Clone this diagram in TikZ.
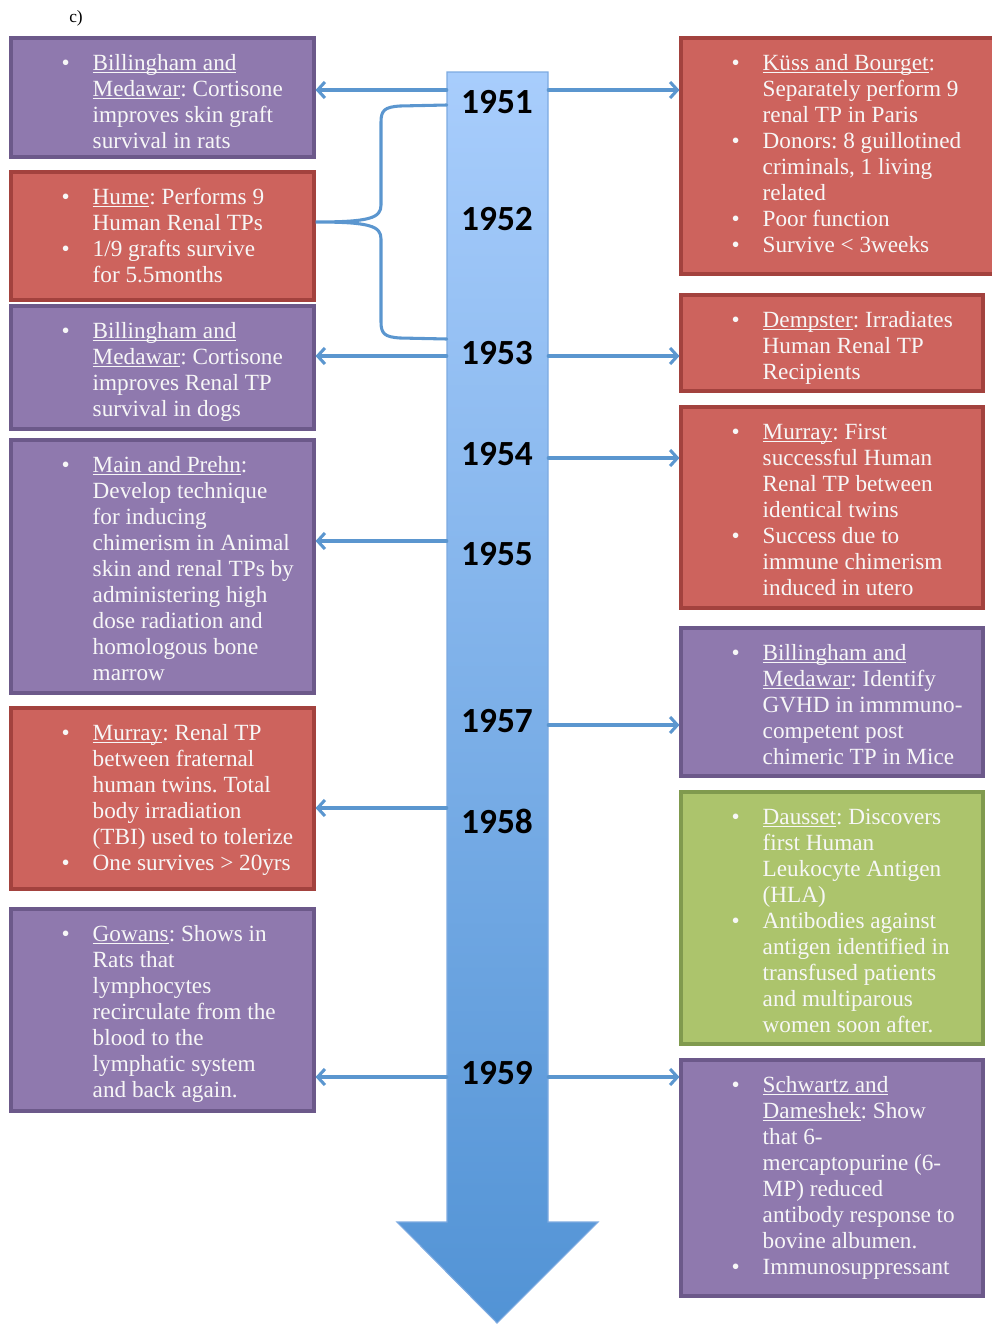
\documentclass[tikz,border=0pt]{standalone}
\usepackage{fontspec}
\setmainfont{Liberation Serif}
\newfontfamily\yearfont{Carlito}
\usetikzlibrary{arrows.meta,fit}
\definecolor{purp}{RGB}{143,121,174}
\definecolor{purpd}{RGB}{108,89,138}
\definecolor{redf}{RGB}{205,99,93}
\definecolor{redd}{RGB}{163,66,62}
\definecolor{grnf}{RGB}{172,196,108}
\definecolor{grnd}{RGB}{128,154,78}
\definecolor{connc}{RGB}{91,150,207}
\definecolor{bartop}{RGB}{168,205,252}
\definecolor{barbot}{RGB}{82,147,213}
\definecolor{barline}{RGB}{125,170,225}
\frenchspacing
\newcommand\ul[1]{\setbox0\hbox{#1}\makebox[0pt][l]{\rule[-1.8pt]{\wd0}{0.7pt}}\box0}
\newcommand\bl{\textbullet}
\newenvironment{items}{\begin{tabular}{@{}p{23.25pt}@{}l@{}}}{\end{tabular}}
\begin{document}
\begin{tikzpicture}[x=0.75pt,y=-0.75pt,
  evbox/.style={inner sep=0pt, line width=2.3pt},
  purplebox/.style={evbox, fill=purp, draw=purpd},
  redbox/.style={evbox, fill=redf, draw=redd},
  greenbox/.style={evbox, fill=grnf, draw=grnd},
  txt/.style={text=white!97!black, font=\fontsize{17.4}{19.5}\selectfont, inner sep=0pt, anchor=north west},
  year/.style={font=\yearfont\bfseries\fontsize{26.5}{28}\selectfont, anchor=base, inner sep=0pt},
  conn/.style={draw=connc, line width=2.3pt, line cap=round, -{Straight Barb[length=5.5pt,width=12pt,line width=2.3pt]}},
  brace/.style={draw=connc, line width=2.3pt, line cap=round}]
\useasboundingbox (0,0) rectangle (992,1324);

% label
\node[anchor=base west, inner sep=0pt, font=\fontsize{13}{14}\selectfont] (lab) at (69,22) {c)};

% central bar with arrow head
\shade[top color=bartop, bottom color=barbot, draw=barline, line width=0.8pt]
  (447,72) -- (548,72) -- (548,1222) -- (598,1222) -- (497,1323) -- (397,1222) -- (447,1222) -- cycle;
\node[fit={(447,72)(548,1222)}, inner sep=0pt] (bar) {};

% years
\node[year] (y1) at (497,113) {1951};
\node[year] (y2) at (497,230) {1952};
\node[year] (y3) at (497,364) {1953};
\node[year] (y4) at (497,465) {1954};
\node[year] (y5) at (497,565) {1955};
\node[year] (y7) at (497,732) {1957};
\node[year] (y8) at (497,833) {1958};
\node[year] (y9) at (497,1084) {1959};

% left boxes
\node[purplebox, fit={(11,38)(314,157)}] (L1) {};
\node[redbox, fit={(11,172)(314,300)}] (L2) {};
\node[purplebox, fit={(11,306)(314,429)}] (L3) {};
\node[purplebox, fit={(11,440)(314,693)}] (L4) {};
\node[redbox, fit={(11,708)(314,889)}] (L5) {};
\node[purplebox, fit={(11,909)(314,1111)}] (L6) {};

% right boxes
\node[redbox, fit={(681,38)(1000,274)}] (R1) {};
\node[redbox, fit={(681,295)(983,391)}] (R2) {};
\node[redbox, fit={(681,407)(983,608)}] (R3) {};
\node[purplebox, fit={(681,628)(983,776)}] (R4) {};
\node[greenbox, fit={(681,792)(983,1044)}] (R5) {};
\node[purplebox, fit={(681,1060)(983,1296)}] (R6) {};

% texts
\node[txt] (L1t) at ([shift={(52,16)}]L1.north west) {\begin{items}
\bl & \ul{Billingham and}\\
& \ul{Medawar}: Cortisone\\
& improves skin graft\\
& survival in rats
\end{items}};
\node[txt] (L2t) at ([shift={(52,16)}]L2.north west) {\begin{items}
\bl & \ul{Hume}: Performs 9\\
& Human Renal TPs\\
\bl & 1/9 grafts survive\\
& for 5.5months
\end{items}};
\node[txt] (L3t) at ([shift={(52,16)}]L3.north west) {\begin{items}
\bl & \ul{Billingham and}\\
& \ul{Medawar}: Cortisone\\
& improves Renal TP\\
& survival in dogs
\end{items}};
\node[txt] (L4t) at ([shift={(52,16)}]L4.north west) {\begin{items}
\bl & \ul{Main and Prehn}:\\
& Develop technique\\
& for inducing\\
& chimerism in Animal\\
& skin and renal TPs by\\
& administering high\\
& dose radiation and\\
& homologous bone\\
& marrow
\end{items}};
\node[txt] (L5t) at ([shift={(52,16)}]L5.north west) {\begin{items}
\bl & \ul{Murray}: Renal TP\\
& between fraternal\\
& human twins. Total\\
& body irradiation\\
& (TBI) used to tolerize\\
\bl & One survives > 20yrs
\end{items}};
\node[txt] (L6t) at ([shift={(52,16)}]L6.north west) {\begin{items}
\bl & \ul{Gowans}: Shows in\\
& Rats that\\
& lymphocytes\\
& recirculate from the\\
& blood to the\\
& lymphatic system\\
& and back again.
\end{items}};

\node[txt] (R1t) at ([shift={(52,16)}]R1.north west) {\begin{items}
\bl & \ul{Küss and Bourget}:\\
& Separately perform 9\\
& renal TP in Paris\\
\bl & Donors: 8 guillotined\\
& criminals, 1 living\\
& related\\
\bl & Poor function\\
\bl & Survive < 3weeks
\end{items}};
\node[txt] (R2t) at ([shift={(52,16)}]R2.north west) {\begin{items}
\bl & \ul{Dempster}: Irradiates\\
& Human Renal TP\\
& Recipients
\end{items}};
\node[txt] (R3t) at ([shift={(52,16)}]R3.north west) {\begin{items}
\bl & \ul{Murray}: First\\
& successful Human\\
& Renal TP between\\
& identical twins\\
\bl & Success due to\\
& immune chimerism\\
& induced in utero
\end{items}};
\node[txt] (R4t) at ([shift={(52,16)}]R4.north west) {\begin{items}
\bl & \ul{Billingham and}\\
& \ul{Medawar}: Identify\\
& GVHD in immmuno-\\
& competent post\\
& chimeric TP in Mice
\end{items}};
\node[txt] (R5t) at ([shift={(52,16)}]R5.north west) {\begin{items}
\bl & \ul{Dausset}: Discovers\\
& first Human\\
& Leukocyte Antigen\\
& (HLA)\\
\bl & Antibodies against\\
& antigen identified in\\
& transfused patients\\
& and multiparous\\
& women soon after.
\end{items}};
\node[txt] (R6t) at ([shift={(52,16)}]R6.north west) {\begin{items}
\bl & \ul{Schwartz and}\\
& \ul{Dameshek}: Show\\
& that 6-\\
& mercaptopurine (6-\\
& MP) reduced\\
& antibody response to\\
& bovine albumen.\\
\bl & Immunosuppressant
\end{items}};

% level coordinates
\coordinate (a1) at (0,90);
\coordinate (a3) at (0,356);
\coordinate (a4) at (0,458);
\coordinate (a5) at (0,541);
\coordinate (a7) at (0,725);
\coordinate (a8) at (0,808);
\coordinate (a9) at (0,1077);

% connectors
\draw[conn] (bar.west |- a1) -- (L1.east |- a1);
\draw[conn] (bar.east |- a1) -- (R1.west |- a1);
\draw[conn] (bar.west |- a3) -- (L3.east |- a3);
\draw[conn] (bar.east |- a3) -- (R2.west |- a3);
\draw[conn] (bar.east |- a4) -- (R3.west |- a4);
\draw[conn] (bar.west |- a5) -- (L4.east |- a5);
\draw[conn] (bar.east |- a7) -- (R4.west |- a7);
\draw[conn] (bar.west |- a8) -- (L5.east |- a8);
\draw[conn] (bar.west |- a9) -- (L6.east |- a9);
\draw[conn] (bar.east |- a9) -- (R6.west |- a9);

% brace 1951-1953 to Hume box
\coordinate (bt) at (0,105);
\coordinate (bm) at (0,222);
\coordinate (bb) at (0,339);
\draw[brace] (bar.west |- bt) -- (400,106) .. controls (385,107) and (381,110) .. (381,122)
  -- (381,205) .. controls (381,218) and (370,222) .. (L2.east |- bm)
  .. controls (370,222) and (381,226) .. (381,239)
  -- (381,322) .. controls (381,334) and (385,337) .. (400,338) -- (bar.west |- bb);
\end{tikzpicture}
\end{document}
